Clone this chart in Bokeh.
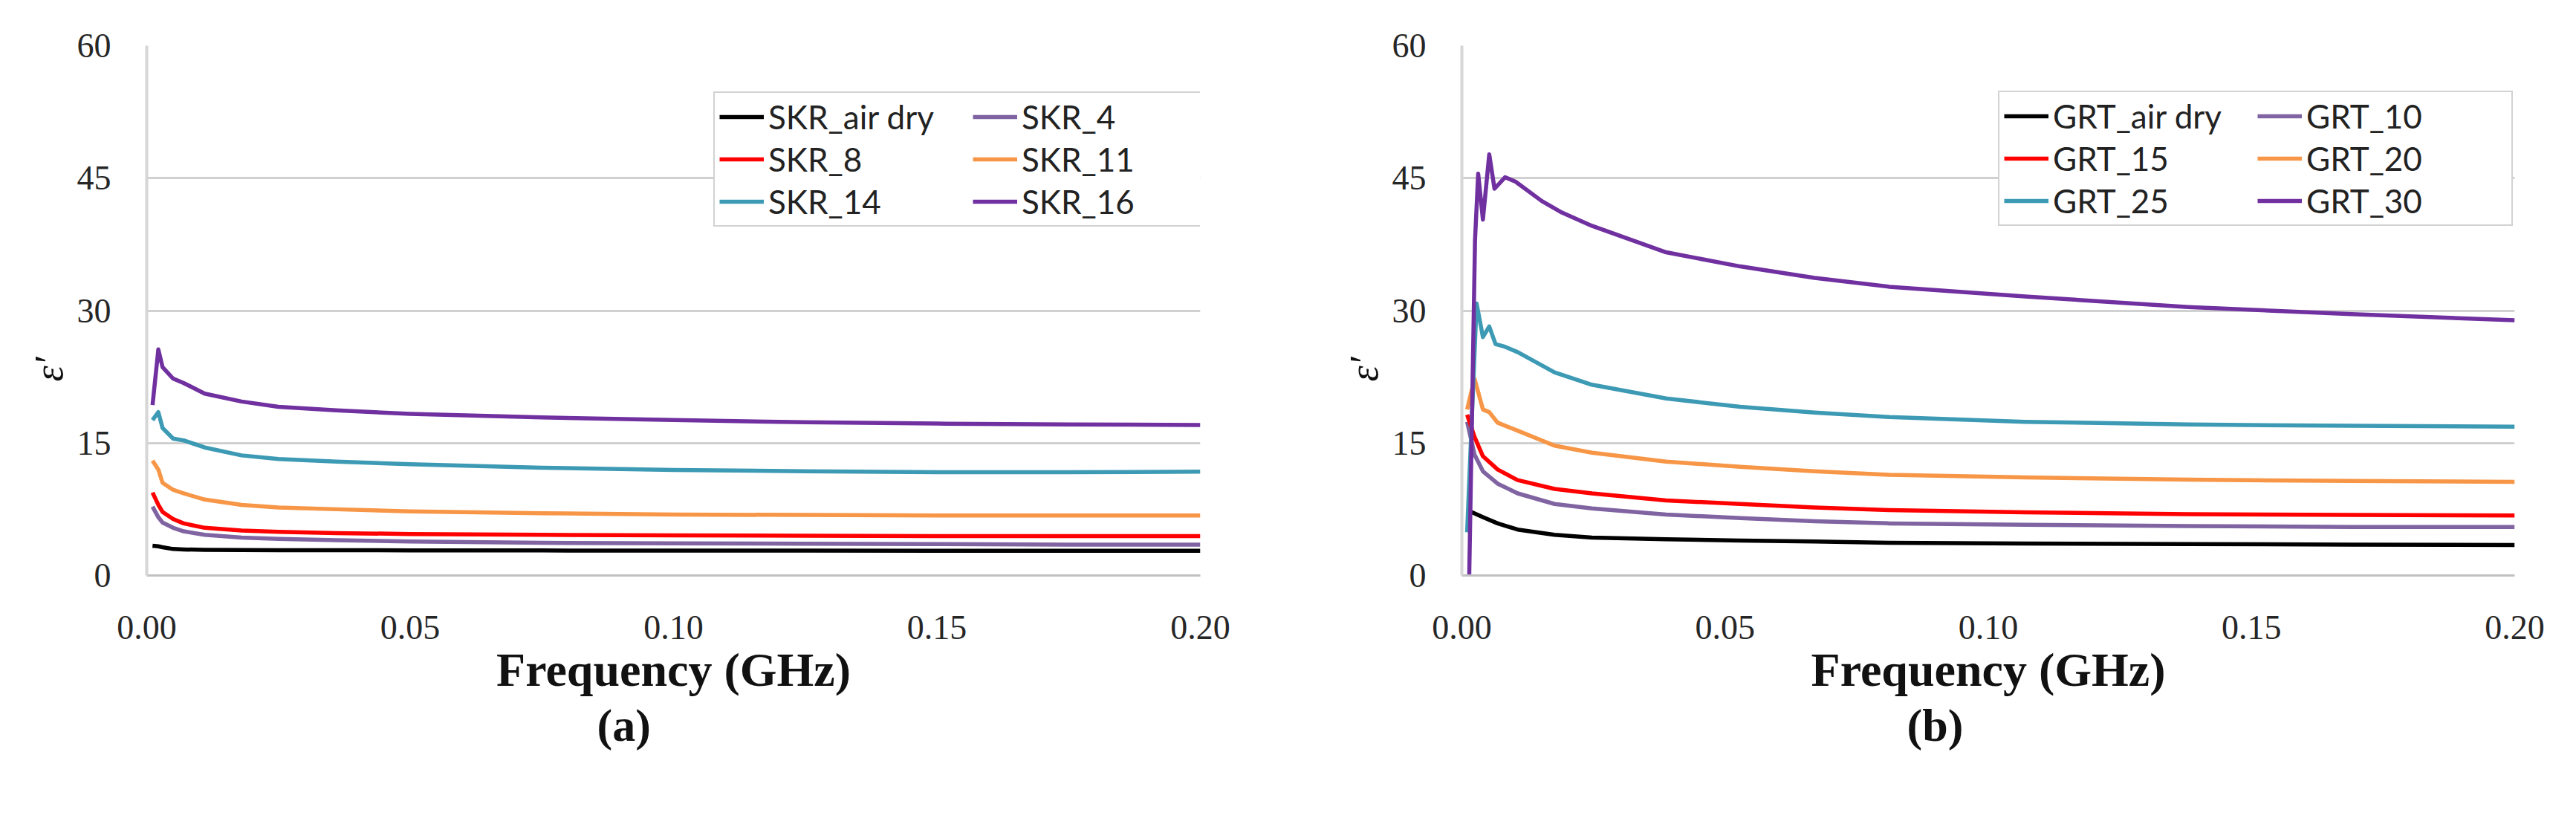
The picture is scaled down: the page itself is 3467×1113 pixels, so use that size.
from bokeh.plotting import figure
from bokeh.layouts import row
from bokeh.models import Legend, LegendItem, Title, FixedTicker, Range1d
from bokeh.embed import file_html
from bokeh.resources import INLINE

# ---------------- data: panel (a) SKR ----------------
skr_freq = [0.0011, 0.0022, 0.003, 0.005, 0.007, 0.011, 0.018, 0.025, 0.036,
            0.05, 0.075, 0.1, 0.125, 0.15, 0.175, 0.2]
skr_air_dry = [3.37, 3.3, 3.2, 3.0, 2.95, 2.9, 2.88, 2.87, 2.86, 2.85, 2.83, 2.82, 2.81, 2.8, 2.8, 2.8]
skr_4 = [7.8, 6.6, 6.0, 5.4, 5.0, 4.6, 4.3, 4.15, 4.0, 3.85, 3.7, 3.65, 3.6, 3.55, 3.5, 3.5]
skr_8 = [9.4, 8.0, 7.2, 6.4, 5.9, 5.4, 5.1, 4.95, 4.8, 4.7, 4.6, 4.55, 4.5, 4.45, 4.45, 4.45]
skr_11 = [13.0, 12.0, 10.5, 9.7, 9.3, 8.6, 8.0, 7.7, 7.5, 7.25, 7.05, 6.9, 6.85, 6.8, 6.8, 6.8]
skr_14 = [17.6, 18.5, 16.7, 15.5, 15.3, 14.5, 13.6, 13.2, 12.9, 12.6, 12.2, 11.95, 11.8, 11.7, 11.7, 11.75]
skr_16 = [19.3, 25.6, 23.6, 22.3, 21.8, 20.6, 19.7, 19.1, 18.7, 18.3, 17.9, 17.6, 17.35, 17.2, 17.1, 17.05]
skr_names = ["SKR_air dry", "SKR_4", "SKR_8", "SKR_11", "SKR_14", "SKR_16"]

# ---------------- data: panel (b) GRT ----------------
grt_tail_f = [0.0106, 0.0176, 0.0247, 0.0388, 0.0529, 0.067, 0.0812, 0.107, 0.138, 0.169, 0.2]
grt_air_dry_f = [0.0018, 0.004, 0.0068] + grt_tail_f
grt_air_dry = [7.2, 6.6, 5.9, 5.2, 4.6, 4.3, 4.1, 3.95, 3.85, 3.7, 3.62, 3.55, 3.5, 3.45]
grt_10_f = [0.001, 0.0024, 0.004, 0.0068] + grt_tail_f
grt_10 = [17.4, 13.7, 11.8, 10.4, 9.3, 8.1, 7.6, 6.9, 6.5, 6.15, 5.9, 5.75, 5.6, 5.5, 5.5]
grt_15_f = [0.001, 0.0024, 0.004, 0.0068] + grt_tail_f
grt_15 = [18.2, 15.7, 13.5, 12.0, 10.8, 9.8, 9.3, 8.5, 8.1, 7.7, 7.4, 7.15, 6.95, 6.85, 6.8]
grt_20_f = [0.001, 0.0024, 0.004, 0.0052, 0.0068] + grt_tail_f
grt_20 = [18.8, 22.3, 18.8, 18.5, 17.3, 16.4, 14.7, 13.9, 12.9, 12.3, 11.8, 11.4, 11.1, 10.85, 10.7, 10.6]
grt_25_f = [0.001, 0.0028, 0.004, 0.0052, 0.0064, 0.0082] + grt_tail_f
grt_25 = [4.9, 30.8, 27.0, 28.2, 26.2, 25.9, 25.3, 23.0, 21.6, 20.05, 19.1, 18.45, 17.95,
          17.4, 17.1, 16.95, 16.85]
grt_30_f = [0.0014, 0.0025, 0.0031, 0.004, 0.0052, 0.0062, 0.0082, 0.0102, 0.0152, 0.019,
            0.0247, 0.0388, 0.0529, 0.067, 0.0812, 0.107, 0.138, 0.169, 0.2]
grt_30 = [0.0, 38.0, 45.5, 40.3, 47.7, 43.8, 45.1, 44.6, 42.4, 41.1,
          39.6, 36.6, 35.0, 33.7, 32.7, 31.6, 30.4, 29.6, 28.9]
grt_names = ["GRT_air dry", "GRT_10", "GRT_15", "GRT_20", "GRT_25", "GRT_30"]

y_ticks = [0, 15, 30, 45, 60]
x_ticks = [0.0, 0.05, 0.10, 0.15, 0.20]
x_tick_labels = {0.0: "0.00", 0.05: "0.05", 0.1: "0.10", 0.15: "0.15", 0.2: "0.20"}
y_title = "ε′"
x_title = "Frequency (GHz)"
panel_tags = ["(a)", "(b)"]

colors = ["#000000", "#8064A2", "#FF0000", "#F79646", "#3D9AB4", "#7030A0"]

SERIF = "Liberation Serif"
SANS = "Lato"


def make_panel(width, bl, br, series, names, tag, tag_offset, legend_loc):
    p = figure(width=width, height=1097, output_backend="svg", toolbar_location=None,
               x_range=Range1d(0, 0.2), y_range=Range1d(0, 60),
               min_border_left=bl, min_border_right=br, min_border_top=61,
               min_border_bottom=323)
    p.outline_line_color = None
    p.background_fill_color = "white"
    p.border_fill_color = "white"
    p.xgrid.visible = False
    p.ygrid.ticker = FixedTicker(ticks=y_ticks)
    p.ygrid.grid_line_color = "#c8c8c8"
    p.ygrid.grid_line_width = 2.5

    p.yaxis.ticker = FixedTicker(ticks=y_ticks)
    p.xaxis.ticker = FixedTicker(ticks=x_ticks)
    p.xaxis.major_label_overrides = x_tick_labels
    for ax in (p.xaxis, p.yaxis):
        ax.major_tick_in = 0
        ax.major_tick_out = 0
        ax.minor_tick_in = 0
        ax.minor_tick_out = 0
        ax.major_label_text_font = SERIF
        ax.major_label_text_font_size = "46px"
        ax.major_label_text_color = "#262626"
    p.yaxis.axis_line_color = "#d6d6d6"
    p.yaxis.axis_line_width = 4
    p.xaxis.axis_line_color = "#c0c0c0"
    p.xaxis.axis_line_width = 3
    p.yaxis.major_label_standoff = 48
    p.xaxis.major_label_standoff = 54
    p.xaxis.axis_label = x_title
    p.xaxis.axis_label_text_font = SERIF
    p.xaxis.axis_label_text_font_style = "bold"
    p.xaxis.axis_label_text_font_size = "64px"
    p.xaxis.axis_label_text_color = "#111111"
    p.xaxis.axis_label_standoff = 3

    items = []
    for (fx, fy), name, c in zip(series, names, colors):
        r = p.line(fx, fy, line_color=c, line_width=5.5, line_join="round")
        items.append(LegendItem(label=name, renderers=[r]))

    leg = Legend(items=items, location=legend_loc, orientation="horizontal", ncols=2,
                 glyph_width=60, glyph_height=48, label_height=48, label_width=270,
                 label_standoff=6, spacing=5, padding=6, margin=0,
                 border_line_color="#a6a6a6", border_line_width=2.5,
                 background_fill_color="white", background_fill_alpha=1.0,
                 label_text_font=SANS, label_text_font_size="44px",
                 label_text_color="#222222")
    p.add_layout(leg, "center")

    # y title (epsilon prime), rotated on the left
    p.add_layout(Title(text=y_title, align="left", offset=261,
                       text_font=SERIF, text_font_style="italic",
                       text_font_size="54px", text_color="#111111"), "left")
    # panel tag below
    p.add_layout(Title(text=tag, align="left", offset=tag_offset, standoff=0,
                       text_font=SERIF, text_font_style="bold",
                       text_font_size="62px", text_color="#111111"), "below")
    return p


skr_series = [(skr_freq, s) for s in (skr_air_dry, skr_4, skr_8, skr_11, skr_14, skr_16)]
grt_series = [(grt_air_dry_f, grt_air_dry), (grt_10_f, grt_10), (grt_15_f, grt_15),
              (grt_20_f, grt_20), (grt_25_f, grt_25), (grt_30_f, grt_30)]

p1 = make_panel(1732, 197, 117, skr_series, skr_names, panel_tags[0], 606, (763, 469))
p2 = make_panel(1719, 235, 67, grt_series, grt_names, panel_tags[1], 599, (722, 470))

layout = row(p1, p2, spacing=0)
open("out.html", "w").write(file_html(layout, INLINE))
